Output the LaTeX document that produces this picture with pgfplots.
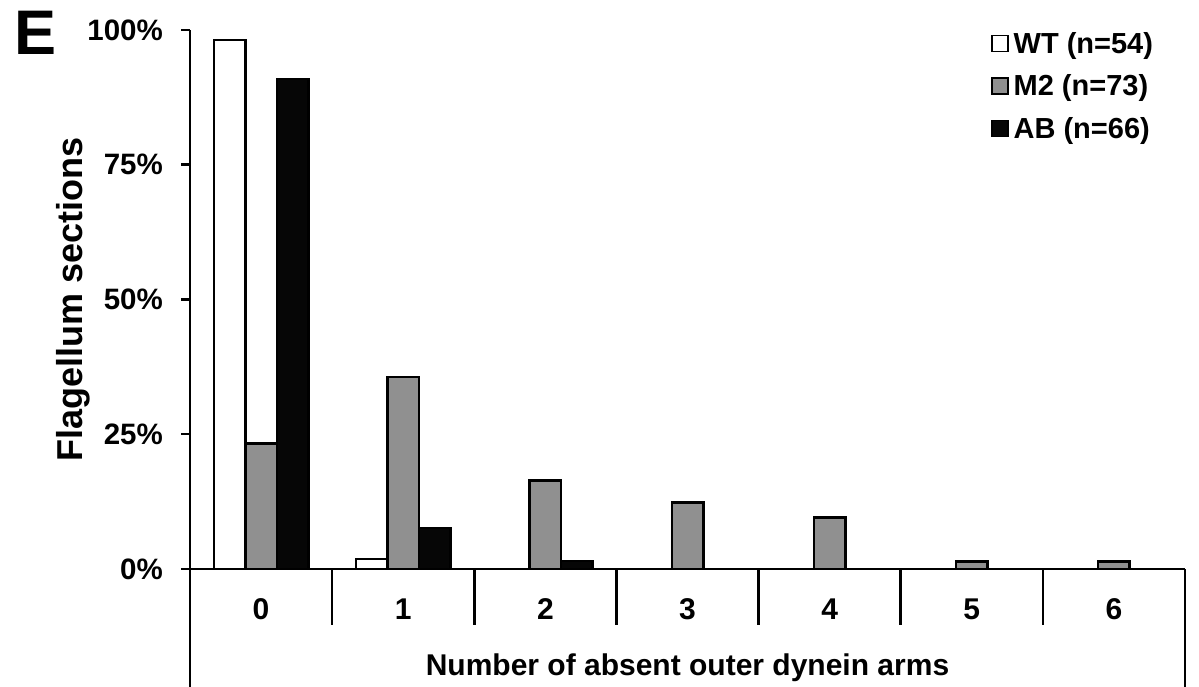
\documentclass[border=0pt]{standalone}
\usepackage{fontspec}
\setmainfont{Liberation Sans}
\usepackage{pgfplots}
\pgfplotsset{compat=1.18}
\definecolor{mgray}{RGB}{144,144,144}
\definecolor{mblack}{RGB}{6,6,6}
\pgfplotsset{sqleg/.style={legend image code/.code={\draw[##1, line width=1.5bp, draw=black] (0bp,-8bp) rectangle (16bp,8bp);}}}
\begin{document}
\begin{tikzpicture}
\useasboundingbox (0,0) rectangle (1199bp,687bp);
\node[anchor=base west, inner sep=0pt, font=\fontsize{63bp}{63bp}\selectfont\bfseries] at (14bp,632bp) {E};
\begin{axis}[
  at={(190bp,118bp)}, anchor=south west,
  scale only axis, width=995bp, height=539bp,
  xmin=-0.5, xmax=6.5, ymin=0, ymax=100,
  clip=false,
  axis x line*=bottom, axis y line*=left,
  axis line style={line width=2.5bp, black, -},
  ybar=0bp, bar width=31.5bp,
  xtick={0,...,6},
  xticklabels={0,1,2,3,4,5,6},
  xtick style={draw=none},
  xticklabel style={anchor=base, yshift=-41bp, font=\fontsize{30bp}{30bp}\selectfont\bfseries},
  ytick={0,25,50,75,100},
  yticklabels={0\%,25\%,50\%,75\%,100\%},
  ytick style={line width=2.5bp, black},
  tick align=outside,
  major tick length=9bp,
  yticklabel style={anchor=east, inner sep=0pt, xshift=-18bp, font=\fontsize{29.5bp}{29.5bp}\selectfont\bfseries},
  xlabel={Number of absent outer dynein arms},
  xlabel style={at={(axis description cs:0.5,0)}, anchor=base, yshift=-106bp, font=\fontsize{30bp}{30bp}\selectfont\bfseries},
  ylabel={Flagellum sections},
  ylabel style={at={(axis description cs:0,0.5)}, anchor=center, yshift=117bp, font=\fontsize{36bp}{36bp}\selectfont\bfseries},
  legend style={at={(axis description cs:0.805,1.0)}, anchor=north west, draw=none, fill=none, inner sep=0pt, row sep=16bp, column sep=3bp, font=\fontsize{29bp}{29bp}\selectfont\bfseries},
  legend cell align=left,
]
\addplot[fill=white, draw=black, line width=2.5bp, sqleg] coordinates {(0,98.15) (1,1.85)};
\addplot[fill=mgray, draw=black, line width=2.5bp, sqleg] coordinates {(0,23.29) (1,35.62) (2,16.44) (3,12.33) (4,9.59) (5,1.37) (6,1.37)};
\addplot[fill=mblack, draw=black, line width=2.5bp, sqleg] coordinates {(0,90.91) (1,7.58) (2,1.52)};
\legend{WT (n=54), M2 (n=73), AB (n=66)}
\draw[line width=2.5bp] (axis cs:-0.5,0) -- ++(0bp,-118bp);
\draw[line width=2.5bp] (axis cs:6.5,0) -- ++(0bp,-118bp);
\draw[line width=2.5bp] (axis cs:0.5,0) -- ++(0bp,-56bp);
\draw[line width=2.5bp] (axis cs:1.5,0) -- ++(0bp,-56bp);
\draw[line width=2.5bp] (axis cs:2.5,0) -- ++(0bp,-56bp);
\draw[line width=2.5bp] (axis cs:3.5,0) -- ++(0bp,-56bp);
\draw[line width=2.5bp] (axis cs:4.5,0) -- ++(0bp,-56bp);
\draw[line width=2.5bp] (axis cs:5.5,0) -- ++(0bp,-56bp);
\end{axis}
\end{tikzpicture}
\end{document}
